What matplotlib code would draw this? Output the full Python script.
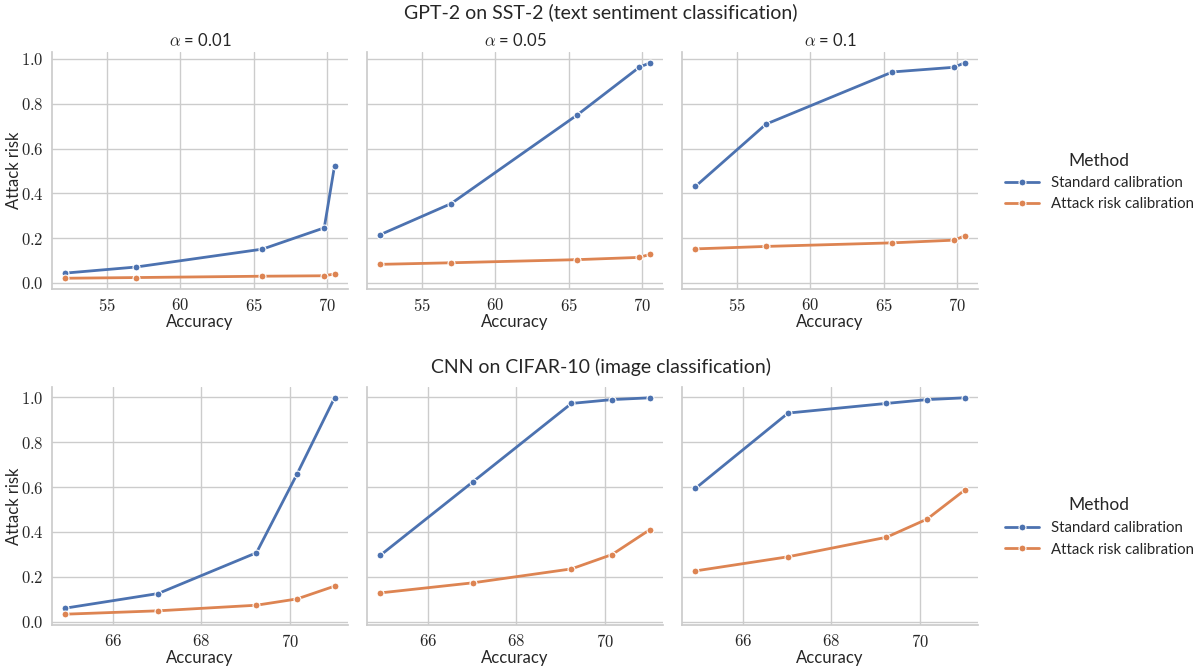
import matplotlib
matplotlib.use("Agg")
import matplotlib.pyplot as plt
import seaborn as sns
from matplotlib.ticker import FuncFormatter

sns.set_theme(style="whitegrid")
plt.rcParams['font.family'] = ['Lato', 'DejaVu Sans']
plt.rcParams['mathtext.fontset'] = 'cm'

# data
alphas = ["0.01", "0.05", "0.1"]
methods = ["Standard calibration", "Attack risk calibration"]
colors = ["#4C72B0", "#DD8452"]

# GPT-2 on SST-2
gpt_acc = [52.2, 57.0, 65.6, 69.8, 70.5]
gpt_std = [
    [0.044, 0.071, 0.151, 0.246, 0.523],
    [0.216, 0.354, 0.751, 0.963, 0.982],
    [0.431, 0.709, 0.942, 0.963, 0.983],
]
gpt_arc = [
    [0.021, 0.024, 0.030, 0.032, 0.040],
    [0.083, 0.090, 0.104, 0.114, 0.127],
    [0.152, 0.163, 0.179, 0.191, 0.210],
]

# CNN on CIFAR-10
cnn_acc = [64.92, 67.02, 69.25, 70.17, 71.02]
cnn_std = [
    [0.060, 0.125, 0.307, 0.658, 0.998],
    [0.296, 0.624, 0.973, 0.990, 0.998],
    [0.594, 0.930, 0.973, 0.990, 0.998],
]
cnn_arc = [
    [0.033, 0.048, 0.073, 0.101, 0.158],
    [0.128, 0.173, 0.235, 0.299, 0.409],
    [0.226, 0.289, 0.376, 0.457, 0.586],
]

W, H = 1202, 670
fig = plt.figure(figsize=(W / 100, H / 100), dpi=100)

lefts = [52, 367, 682]
aw = 296
rows = [
    dict(title="GPT-2 on SST-2 (text sentiment classification)", title_y=12,
         top=52, bottom=289, leg_y=182, acc=gpt_acc, std=gpt_std, arc=gpt_arc,
         xt=[55, 60, 65, 70]),
    dict(title="CNN on CIFAR-10 (image classification)", title_y=367,
         top=387, bottom=625, leg_y=527, acc=cnn_acc, std=cnn_std, arc=cnn_arc,
         xt=[66, 68, 70]),
]

yfmt = FuncFormatter(lambda v, p: r'$%.1f$' % v)
xfmt = FuncFormatter(lambda v, p: r'$%d$' % round(v))

for r, row in enumerate(rows):
    fig.text(0.5, 1 - row['title_y'] / H, row['title'], ha='center', va='center', fontsize=14)
    axes = []
    for c in range(3):
        ax = fig.add_axes([lefts[c] / W, 1 - row['bottom'] / H, aw / W,
                           (row['bottom'] - row['top']) / H],
                          sharey=axes[0] if axes else None)
        lines = []
        for vals, lab, col in [(row['std'][c], methods[0], colors[0]),
                               (row['arc'][c], methods[1], colors[1])]:
            ln, = ax.plot(row['acc'], vals, color=col, lw=2, marker='o', ms=5,
                          mec='white', mew=0.8, label=lab)
            lines.append(ln)
        ax.set_xticks(row['xt'])
        ax.set_yticks([0.0, 0.2, 0.4, 0.6, 0.8, 1.0])
        ax.xaxis.set_major_formatter(xfmt)
        ax.yaxis.set_major_formatter(yfmt)
        ax.tick_params(labelsize=12)
        ax.tick_params(axis='x', pad=0)
        ax.tick_params(axis='y', pad=0)
        ax.set_xlabel("Accuracy", fontsize=12, labelpad=0)
        if c == 0:
            ax.set_ylabel("Attack risk", fontsize=12)
            ax.yaxis.set_label_coords(-0.10, 0.5)
        else:
            ax.tick_params(labelleft=False)
        if r == 0:
            ax.set_title(r'$\alpha$ = ' + alphas[c], fontsize=12, pad=4)
        for s in ['top', 'right']:
            ax.spines[s].set_visible(False)
        axes.append(ax)
    fig.legend(lines, methods, title="Method", loc='center left',
               bbox_to_anchor=(991 / W, 1 - row['leg_y'] / H), frameon=False,
               fontsize=10.8, title_fontsize=12.5, handlelength=2.3,
               handletextpad=0.8)

fig.savefig("out.png", dpi=100)
